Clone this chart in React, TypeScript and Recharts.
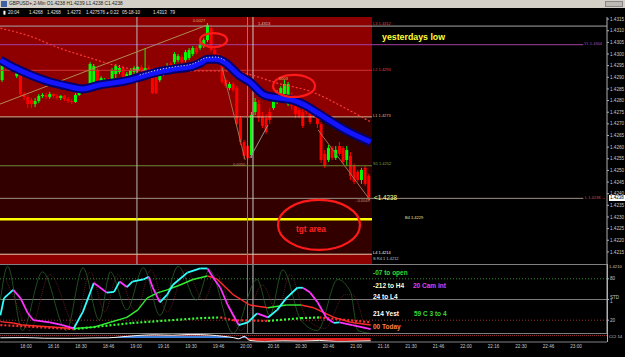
import React from 'react'
import {
  ComposedChart, Bar, Line, Area, XAxis, YAxis,
  ReferenceLine, ReferenceArea, ReferenceDot,
} from 'recharts'

// GBPUSD 2-min bars, time axis in minutes after 18:00
const BAR_START = -13
const BAR_STEP = 2

const opens = [
  1.42888, 1.42948, 1.42940, 1.42944, 1.42905, 1.42923, 1.42828, 1.42815, 1.42802, 1.42785,
  1.42798, 1.42820, 1.42824, 1.42815, 1.42828, 1.42820, 1.42811, 1.42820, 1.42807, 1.42798,
  1.42794, 1.42824, 1.42845, 1.42837, 1.42854, 1.42862, 1.42931, 1.42871, 1.42862, 1.42888,
  1.42888, 1.42914, 1.42923, 1.42940, 1.42880, 1.42905, 1.42923, 1.42931, 1.42944, 1.42927,
  1.42940, 1.42931, 1.42914, 1.42888, 1.42914, 1.42931, 1.42957, 1.42965, 1.42974, 1.42987,
  1.42974, 1.42983, 1.43000, 1.43026, 1.43026, 1.43034, 1.43060, 1.43111, 1.43017, 1.42996,
  1.42983, 1.42888, 1.42854, 1.42871, 1.42854, 1.42725, 1.42622, 1.42605, 1.42566, 1.42751,
  1.42785, 1.42734, 1.42725, 1.42751, 1.42768, 1.42802, 1.42820, 1.42828, 1.42785, 1.42802,
  1.42777, 1.42760, 1.42751, 1.42768, 1.42777, 1.42768, 1.42725, 1.42699, 1.42571, 1.42545,
  1.42597, 1.42554, 1.42605, 1.42597, 1.42545, 1.42562, 1.42519, 1.42494, 1.42459, 1.42511,
  1.42476,
]
const highs = [
  1.42965, 1.42961, 1.42957, 1.42961, 1.42940, 1.42931, 1.42837, 1.42824, 1.42811, 1.42811,
  1.42828, 1.42832, 1.42832, 1.42837, 1.42832, 1.42828, 1.42824, 1.42824, 1.42815, 1.42807,
  1.42832, 1.42854, 1.42867, 1.42867, 1.42965, 1.42957, 1.42940, 1.42905, 1.42897, 1.42897,
  1.42940, 1.42957, 1.42953, 1.42948, 1.42923, 1.42940, 1.42948, 1.42948, 1.42953, 1.43026,
  1.42948, 1.42940, 1.42923, 1.42931, 1.42948, 1.42961, 1.42965, 1.43008, 1.43000, 1.42996,
  1.43017, 1.43026, 1.43034, 1.43034, 1.43051, 1.43068, 1.43133, 1.43120, 1.43026, 1.43000,
  1.42991, 1.42897, 1.42880, 1.42880, 1.42862, 1.42734, 1.42631, 1.42609, 1.42751, 1.42811,
  1.42802, 1.42751, 1.42742, 1.42768, 1.42828, 1.42845, 1.42862, 1.42888, 1.42880, 1.42837,
  1.42785, 1.42785, 1.42768, 1.42785, 1.42785, 1.42777, 1.42734, 1.42708, 1.42588, 1.42609,
  1.42605, 1.42605, 1.42622, 1.42605, 1.42605, 1.42579, 1.42528, 1.42502, 1.42511, 1.42519,
  1.42485,
]
const lows = [
  1.42880, 1.42931, 1.42935, 1.42931, 1.42897, 1.42820, 1.42802, 1.42768, 1.42768, 1.42772,
  1.42790, 1.42811, 1.42807, 1.42807, 1.42811, 1.42802, 1.42802, 1.42798, 1.42790, 1.42785,
  1.42790, 1.42820, 1.42837, 1.42832, 1.42850, 1.42854, 1.42862, 1.42862, 1.42854, 1.42862,
  1.42880, 1.42897, 1.42914, 1.42888, 1.42871, 1.42897, 1.42914, 1.42923, 1.42923, 1.42923,
  1.42914, 1.42828, 1.42828, 1.42880, 1.42905, 1.42923, 1.42931, 1.42957, 1.42965, 1.42957,
  1.42965, 1.42974, 1.42991, 1.43000, 1.43017, 1.43026, 1.43051, 1.43008, 1.42991, 1.42970,
  1.42871, 1.42854, 1.42845, 1.42837, 1.42691, 1.42609, 1.42549, 1.42545, 1.42554, 1.42738,
  1.42708, 1.42682, 1.42657, 1.42699, 1.42760, 1.42785, 1.42811, 1.42820, 1.42777, 1.42760,
  1.42725, 1.42725, 1.42682, 1.42742, 1.42699, 1.42725, 1.42682, 1.42532, 1.42511, 1.42536,
  1.42545, 1.42545, 1.42562, 1.42528, 1.42519, 1.42459, 1.42442, 1.42451, 1.42442, 1.42434,
  1.42373,
]
const closes = [
  1.42953, 1.42940, 1.42948, 1.42948, 1.42931, 1.42828, 1.42815, 1.42785, 1.42785, 1.42798,
  1.42820, 1.42824, 1.42815, 1.42828, 1.42820, 1.42811, 1.42820, 1.42807, 1.42798, 1.42794,
  1.42824, 1.42845, 1.42854, 1.42862, 1.42957, 1.42948, 1.42871, 1.42897, 1.42888, 1.42871,
  1.42931, 1.42948, 1.42940, 1.42897, 1.42914, 1.42931, 1.42940, 1.42944, 1.42931, 1.42940,
  1.42923, 1.42832, 1.42832, 1.42923, 1.42940, 1.42948, 1.42940, 1.43000, 1.42991, 1.42965,
  1.43008, 1.43017, 1.43026, 1.43008, 1.43043, 1.43060, 1.43124, 1.43017, 1.43000, 1.42978,
  1.42880, 1.42862, 1.42871, 1.42845, 1.42699, 1.42622, 1.42562, 1.42554, 1.42738, 1.42794,
  1.42725, 1.42691, 1.42665, 1.42717, 1.42820, 1.42837, 1.42854, 1.42871, 1.42871, 1.42777,
  1.42742, 1.42734, 1.42691, 1.42751, 1.42708, 1.42734, 1.42699, 1.42545, 1.42519, 1.42597,
  1.42554, 1.42588, 1.42571, 1.42536, 1.42588, 1.42476, 1.42451, 1.42459, 1.42502, 1.42442,
  1.42382,
]

// moving-average ribbon
const bandTimes = [-14, -6, 4, 13, 22, 31, 40, 54, 62, 72, 81, 91, 95, 99, 104, 109, 116, 122, 130, 138, 145, 152, 159, 165, 174, 188]
const bandValues = [1.42974, 1.42940, 1.42905, 1.42880, 1.42863, 1.42850, 1.42867, 1.42884, 1.42901, 1.42923, 1.42935, 1.42948, 1.42961, 1.42978, 1.42978, 1.42961, 1.42910, 1.42880, 1.42824, 1.42811, 1.42803, 1.42781, 1.42747, 1.42717, 1.42674, 1.42622]
const innerDotTimes = [62, 72, 81, 91, 99, 104, 109]
const innerDotValues = [1.42910, 1.42932, 1.42945, 1.42958, 1.42985, 1.42987, 1.42970]

// slow red dashed average
const maTimes = [-14, 2, 18, 35, 50, 62, 78, 95, 111, 119, 137, 156, 174, 188]
const maValues = [1.43111, 1.43077, 1.43026, 1.42983, 1.42948, 1.42931, 1.42927, 1.42927, 1.42927, 1.42918, 1.42875, 1.42837, 1.42768, 1.42708]

const priceTicks = [1.4215, 1.422, 1.4225, 1.423, 1.4235, 1.424, 1.4245, 1.425, 1.4255, 1.426, 1.4265, 1.427, 1.4275, 1.428, 1.4285, 1.429, 1.4295, 1.43, 1.4305, 1.431, 1.4315]

const timeTicks = [0, 15, 30, 45, 60, 75, 90, 105, 120, 135, 150, 165, 180, 195, 210, 225, 240, 255, 270, 285, 300]
const timeLabels = ['18:00', '18:16', '18:30', '18:46', '19:00', '19:16', '19:30', '19:46', '20:00', '20:16', '20:30', '20:46', '21:00', '21:16', '21:30', '21:46', '22:00', '22:16', '22:30', '22:46', '23:00']

// oscillator window
const stochTimes = [-14, -12, -7, -3, 1, 4, 13, 20, 26, 31, 37, 40, 44, 48, 51, 55, 58, 64, 67, 69, 73, 77, 80, 88, 95, 99, 102, 106, 110, 116, 121, 126, 132, 137, 142, 148, 151, 155, 159, 164, 168, 171, 178, 188]
const stochValues = [27, 52, 64, 52, 30, 20, 17, 13, 8, 32, 74, 68, 60, 61, 76, 68, 76, 79, 83, 68, 46, 57, 71, 89, 95, 95, 82, 67, 42, 13, 17, 30, 24, 35, 52, 67, 67, 60, 46, 23, 16, 17, 13, 7]
const signalTimes = [-14, -7, -2, 26, 37, 46, 55, 61, 66, 72, 77, 84, 91, 99, 104, 113, 122, 132, 142, 150, 157, 168, 177, 188]
const signalValues = [18, 16, 13, 8, 10, 17, 24, 35, 52, 60, 64, 71, 79, 84, 80, 57, 42, 38, 42, 42, 38, 24, 17, 13]
const slowTimes = [-14, 26, 58, 95, 106, 113, 132, 150, 160, 188]
const slowValues = [13, 7, 16, 23, 24, 20, 19, 23, 24, 17]
const fastGreenTimes = [-14, -10, -2, 9, 22, 31, 40, 46, 55, 64, 73, 83, 93, 100, 113, 126, 133, 140, 150, 159, 170, 177, 181, 188]
const fastGreenValues = [49, 98, 5, 90, 5, 96, 20, 90, 35, 96, 27, 98, 49, 93, 1, 79, 27, 93, 20, 5, 79, 61, 5, 1]
const fastRedTimes = [-11, -6, 2, 13, 27, 35, 43, 50, 60, 68, 77, 87, 97, 104, 117, 129, 137, 144, 153, 163, 174, 178, 185]
const fastRedValues = [79, 49, 5, 86, 13, 90, 32, 86, 32, 93, 32, 93, 49, 86, 5, 71, 32, 86, 23, 8, 57, 57, 5]

const cciTimes = [-14, -1, 10, 25, 36, 45, 52, 60, 70, 80, 90, 100, 108, 113, 116, 119, 122, 130, 140, 150, 160, 170, 180, 188]
const cciValues = [5, 10, -5, -8, 3, 5, 30, 60, 80, 70, 90, 75, 40, 10, -20, 40, -60, -90, -70, -80, -60, -90, -80, -70]

const X_MIN = -14.2
const X_MAX = 316.9
const RED_END = 188.7
const P_MIN = 1.42098
const P_MAX = 1.43159

const candles = opens.map((o, i) => ({
  t: BAR_START + i * BAR_STEP,
  range: [lows[i], highs[i]],
  o, h: highs[i], l: lows[i], c: closes[i],
}))
const toRows = (ts: number[], vs: number[]) => ts.map((t, i) => ({ t, v: vs[i] }))
const bandRows = toRows(bandTimes, bandValues)
const innerDotRows = toRows(innerDotTimes, innerDotValues)
const maRows = toRows(maTimes, maValues)
const cciRows = cciTimes.map((t, i) => ({ t, v: cciValues[i], pos: Math.max(cciValues[i], 0), neg: Math.min(cciValues[i], 0) }))

const FONT = 'Liberation Sans, Arial, sans-serif'

function Candle(props: any) {
  const { x, y, width, height, payload } = props
  if (!payload) return null
  const { o, h, l, c } = payload
  const top = height < 0 ? y + height : y
  const span = Math.abs(height)
  const k = span / (h - l || 1)
  const color = c >= o ? '#00ff00' : '#ff0000'
  const cx = x + width / 2
  const bodyTop = top + (h - Math.max(o, c)) * k
  const bodyH = Math.max(1, Math.abs(o - c) * k)
  return (
    <g>
      <line x1={cx} x2={cx} y1={top} y2={top + span} stroke={color} strokeWidth={1} />
      <rect x={cx - 1.5} y={bodyTop} width={3} height={bodyH} fill={color} />
    </g>
  )
}

// one Line per segment so rising and falling parts get their own colour
function slopeLines(name: string, ts: number[], vs: number[], upColor: string, downColor: string, width: number, dash?: string) {
  const out = []
  for (let i = 0; i < ts.length - 1; i++) {
    out.push(
      <Line
        key={name + i}
        data={[{ t: ts[i], v: vs[i] }, { t: ts[i + 1], v: vs[i + 1] }]}
        dataKey="v"
        type="linear"
        stroke={vs[i + 1] >= vs[i] ? upColor : downColor}
        strokeWidth={width}
        strokeDasharray={dash}
        dot={false}
        isAnimationActive={false}
      />
    )
  }
  return out
}

function Txt({ x, y, c, s, b, children }: any) {
  return (
    <div style={{ position: 'absolute', left: x, top: y, color: c, fontSize: s, fontWeight: b ? 'bold' : 'normal', whiteSpace: 'nowrap', lineHeight: 1, fontFamily: FONT }}>
      {children}
    </div>
  )
}

const ellipse = (rx: number, ry: number) => (p: any) => (
  <ellipse cx={p.cx} cy={p.cy} rx={rx} ry={ry} fill="none" stroke="#ff1a1a" strokeWidth={2.2} />
)

export default function App() {
  const axisTick = { fill: '#c8c8c8', fontSize: 4.6, fontFamily: FONT }
  return (
    <div style={{ position: 'absolute', left: 0, top: 0, width: 625, height: 357, background: '#000', overflow: 'hidden', fontFamily: FONT }}>
      {/* window title + data bar */}
      <div style={{ position: 'absolute', left: 0, top: 0, width: 625, height: 8, background: '#d4d0c8' }} />
      <div style={{ position: 'absolute', left: 1, top: 1, width: 6, height: 6, background: '#4060a0' }} />
      <Txt x={9} y={1.5} c="#202020" s={4.8}>GBPUSD+,2-Min O1.4238 H1.4239 L1.4238 C1.4238</Txt>
      <div style={{ position: 'absolute', left: 605, top: 1, width: 18, height: 6, background: '#bdbab4', border: '1px solid #888', boxSizing: 'border-box' }} />
      <Txt x={3} y={11} c="#fff" s={4.5}>▮</Txt>
      <Txt x={8} y={11} c="#e0e0e0" s={4.5}>20:04</Txt>
      <Txt x={29} y={11} c="#e0e0e0" s={4.5}>1.4268</Txt>
      <Txt x={47} y={11} c="#e0e0e0" s={4.5}>1.4268</Txt>
      <Txt x={67} y={11} c="#e0e0e0" s={4.5}>1.4273</Txt>
      <Txt x={86} y={11} c="#e0e0e0" s={4.5}>1.4275</Txt>
      <Txt x={100} y={11} c="#e0e0e0" s={4.5}>76</Txt>
      <Txt x={106} y={11} c="#e0e0e0" s={4.5}>◕ 0:22</Txt>
      <Txt x={122} y={11} c="#e0e0e0" s={4.5}>05-18-10</Txt>
      <Txt x={153} y={11} c="#e0e0e0" s={4.5}>1.4313</Txt>
      <Txt x={170} y={11} c="#e0e0e0" s={4.5}>79</Txt>

      {/* price window */}
      <div style={{ position: 'absolute', left: 0, top: 17 }}>
        <ComposedChart width={625} height={247} data={candles} margin={{ top: 0, right: 0, bottom: 0, left: 0 }}>
          <XAxis dataKey="t" type="number" domain={[X_MIN, X_MAX]} allowDataOverflow hide />
          <YAxis orientation="right" type="number" width={18} domain={[P_MIN, P_MAX]} allowDataOverflow
            ticks={priceTicks} interval={0} tick={axisTick} tickSize={2} tickMargin={1}
            tickFormatter={(v: number) => v.toFixed(4)} axisLine={{ stroke: '#b0b0b0' }} tickLine={{ stroke: '#b0b0b0' }} />
          <ReferenceArea x1={X_MIN} x2={RED_END} y1={1.4273} y2={P_MAX} fill="#8e0000" fillOpacity={1} stroke="none" />
          <ReferenceArea x1={X_MIN} x2={RED_END} y1={1.4214} y2={1.4273} fill="#330000" fillOpacity={1} stroke="none" />
          <ReferenceArea x1={X_MIN} x2={RED_END} y1={P_MIN} y2={1.4214} fill="#8e0000" fillOpacity={1} stroke="none" />

          <ReferenceLine y={1.4312} stroke="#a8a8a8" />
          <ReferenceLine segment={[{ x: X_MIN, y: 1.4304 }, { x: 304, y: 1.4304 }]} stroke="#a040a0" />
          <ReferenceLine segment={[{ x: X_MIN, y: 1.4293 }, { x: RED_END, y: 1.4293 }]} stroke="#d03030" />
          <ReferenceLine segment={[{ x: X_MIN, y: 1.4273 }, { x: RED_END, y: 1.4273 }]} stroke="#e8b090" />
          <ReferenceLine segment={[{ x: X_MIN, y: 1.4252 }, { x: RED_END, y: 1.4252 }]} stroke="#6a8a30" />
          <ReferenceLine segment={[{ x: X_MIN, y: 1.4238 }, { x: 304, y: 1.4238 }]} stroke="#a09080" />
          <ReferenceLine segment={[{ x: X_MIN, y: 1.4229 }, { x: RED_END, y: 1.4229 }]} stroke="#ffff00" strokeWidth={2.5} />
          <ReferenceLine segment={[{ x: X_MIN, y: 1.4214 }, { x: RED_END, y: 1.4214 }]} stroke="#f0c8a0" />
          <ReferenceLine x={60.5} stroke="#b8b8b8" />
          <ReferenceLine x={120.8} stroke="#d06060" />
          <ReferenceLine x={123.8} stroke="#c8c8c8" />

          <ReferenceLine segment={[{ x: X_MIN, y: 1.42785 }, { x: 98.7, y: 1.43124 }]} stroke="#b08a50" />
          <ReferenceLine segment={[{ x: 107, y: 1.4294 }, { x: 119.5, y: 1.42545 }]} stroke="#a07050" />
          <ReferenceLine segment={[{ x: 122.2, y: 1.42554 }, { x: 132, y: 1.42695 }]} stroke="#909090" />
          <ReferenceLine segment={[{ x: 159.3, y: 1.42674 }, { x: 187.6, y: 1.42373 }]} stroke="#a07050" />

          <Line data={maRows} dataKey="v" type="monotone" stroke="#ff3a3a" strokeWidth={1.2} strokeDasharray="2 2" dot={false} isAnimationActive={false} />
          <Bar dataKey="range" barSize={3} shape={(p: any) => <Candle {...p} />} isAnimationActive={false} />
          <Line data={bandRows} dataKey="v" type="monotone" stroke="#00006e" strokeWidth={9} dot={false} isAnimationActive={false} />
          <Line data={bandRows} dataKey="v" type="monotone" stroke="#1414ff" strokeWidth={5} dot={false} isAnimationActive={false} />
          <Line data={innerDotRows} dataKey="v" type="monotone" stroke="#f0f0b0" strokeWidth={1} strokeDasharray="1 2" dot={false} isAnimationActive={false} />

          <ReferenceDot x={102.3} y={1.4306} r={10} shape={ellipse(13.5, 7)} />
          <ReferenceDot x={146.2} y={1.42863} r={10} shape={ellipse(21, 11)} />
          <ReferenceDot x={159.8} y={1.42266} r={10} shape={ellipse(41, 25)} />
        </ComposedChart>
      </div>

      {/* price window annotations */}
      <Txt x={193} y={19} c="#d8b070" s={4}>0.0027</Txt>
      <Txt x={258} y={22} c="#e0c0a0" s={4}>1.4313</Txt>
      <Txt x={279} y={77} c="#e0c060" s={4}>0003</Txt>
      <Txt x={233} y={163} c="#d09070" s={4}>0.0050</Txt>
      <Txt x={355} y={199} c="#d09070" s={4}>- 0.0049</Txt>
      <Txt x={373} y={22} c="#e04040" s={4}>L3 1.4312</Txt>
      <Txt x={373} y={68} c="#e04040" s={4}>L2 1.4293</Txt>
      <Txt x={373} y={114} c="#e8b090" s={4}>L1 1.4273</Txt>
      <Txt x={373} y={162} c="#80a040" s={4}>S1 1.4252</Txt>
      <Txt x={405} y={216} c="#e8e8a0" s={4}>B4 1.4229</Txt>
      <Txt x={373} y={251} c="#f0f0f0" s={4}>L4 1.4214</Txt>
      <Txt x={373} y={257} c="#c0c0c0" s={4}>S R4 1 1.4212</Txt>
      <Txt x={584} y={42} c="#b050b0" s={4}>YL 1.4304</Txt>
      <Txt x={585} y={196} c="#d05050" s={4}>L 1.4238 →</Txt>
      <div style={{ position: 'absolute', left: 609, top: 195, width: 16, height: 6, background: '#fff' }} />
      <Txt x={610} y={196} c="#000" s={4.5}>1.4238</Txt>
      <Txt x={374} y={195} c="#ffff88" s={6.3}>&lt;1.4238</Txt>
      <Txt x={382} y={33} c="#ffff33" s={8.8} b>yesterdays low</Txt>
      <Txt x={296} y={225} c="#ff2020" s={8.3} b>tgt area</Txt>

      {/* oscillator window */}
      <div style={{ position: 'absolute', left: 0, top: 264, width: 607, height: 1, background: '#808080' }} />
      <div style={{ position: 'absolute', left: 0, top: 265 }}>
        <ComposedChart width={625} height={69} margin={{ top: 0, right: 0, bottom: 0, left: 0 }}>
          <XAxis dataKey="t" type="number" domain={[X_MIN, X_MAX]} allowDataOverflow hide />
          <YAxis orientation="right" type="number" width={18} domain={[0, 100]} allowDataOverflow
            ticks={[20, 50, 80]} interval={0} tick={axisTick} tickSize={2} tickMargin={1}
            tickFormatter={(v: number) => (v === 50 ? 'STD 1' : String(v))} axisLine={{ stroke: '#b0b0b0' }} tickLine={{ stroke: '#b0b0b0' }} />
          <ReferenceLine y={80} stroke="#2f8a2f" strokeDasharray="1 2" />
          <ReferenceLine y={50} stroke="#7a7a7a" />
          <ReferenceLine y={20} stroke="#a03030" strokeDasharray="1 2" />
          <ReferenceLine x={120.8} stroke="#c06060" />
          <ReferenceLine x={123.8} stroke="#c8c8c8" />
          <Line data={toRows(fastGreenTimes, fastGreenValues)} dataKey="v" type="monotone" stroke="#2a602a" strokeWidth={0.8} dot={false} isAnimationActive={false} />
          <Line data={toRows(fastRedTimes, fastRedValues)} dataKey="v" type="monotone" stroke="#742222" strokeWidth={0.8} strokeDasharray="1 1" dot={false} isAnimationActive={false} />
          {slopeLines('slow', slowTimes, slowValues, '#33ff33', '#ff2a2a', 2.2, '2 2')}
          {slopeLines('sig', signalTimes, signalValues, '#33ee33', '#ff2a2a', 1.4)}
          {slopeLines('st', stochTimes, stochValues, '#33ffff', '#ff33ff', 1.8)}
        </ComposedChart>
      </div>
      <Txt x={373} y={270} c="#33dd33" s={6.5} b>-07 to open</Txt>
      <Txt x={373} y={283} c="#ffffcc" s={6.5} b>-212 to H4</Txt>
      <Txt x={413} y={283} c="#e040e0" s={6.5} b>20 Cam int</Txt>
      <Txt x={373} y={294} c="#ffffff" s={6.5} b>24 to L4</Txt>
      <Txt x={373} y={311} c="#ffffff" s={6.5} b>214 Yest</Txt>
      <Txt x={414} y={311} c="#33dd33" s={6.5} b>59 C 3 to 4</Txt>
      <Txt x={373} y={324} c="#ff8040" s={6.5} b>00 Today</Txt>

      {/* CCI strip + time axis */}
      <div style={{ position: 'absolute', left: 0, top: 333, width: 607, height: 1, background: '#808080' }} />
      <div style={{ position: 'absolute', left: 0, top: 334 }}>
        <ComposedChart width={625} height={23} data={cciRows} margin={{ top: 0, right: 18, bottom: 0, left: 0 }}>
          <XAxis dataKey="t" type="number" domain={[X_MIN, X_MAX]} allowDataOverflow ticks={timeTicks} interval={0}
            height={15} tick={axisTick} tickSize={0} tickMargin={3} axisLine={{ stroke: '#808080' }}
            tickFormatter={(v: number) => timeLabels[timeTicks.indexOf(v)] ?? ''} />
          <YAxis type="number" domain={[-100, 100]} hide />
          <ReferenceLine y={60} stroke="#a03030" strokeDasharray="1 1" />
          <Area dataKey="pos" type="monotone" baseValue={0} stroke="none" fill="#3a86e0" fillOpacity={1} isAnimationActive={false} />
          <Area dataKey="neg" type="monotone" baseValue={0} stroke="none" fill="#e02020" fillOpacity={1} isAnimationActive={false} />
          <Line dataKey="v" type="monotone" stroke="#f4f4f4" strokeWidth={1} dot={false} isAnimationActive={false} />
        </ComposedChart>
      </div>
      <div style={{ position: 'absolute', left: 607, top: 264, width: 1, height: 78, background: '#b0b0b0' }} />
      <Txt x={609} y={335} c="#c8c8c8" s={4.2}>CCI 14</Txt>
      <Txt x={609} y={265} c="#c8c8c8" s={4.2}>1.4210</Txt>
    </div>
  )
}
